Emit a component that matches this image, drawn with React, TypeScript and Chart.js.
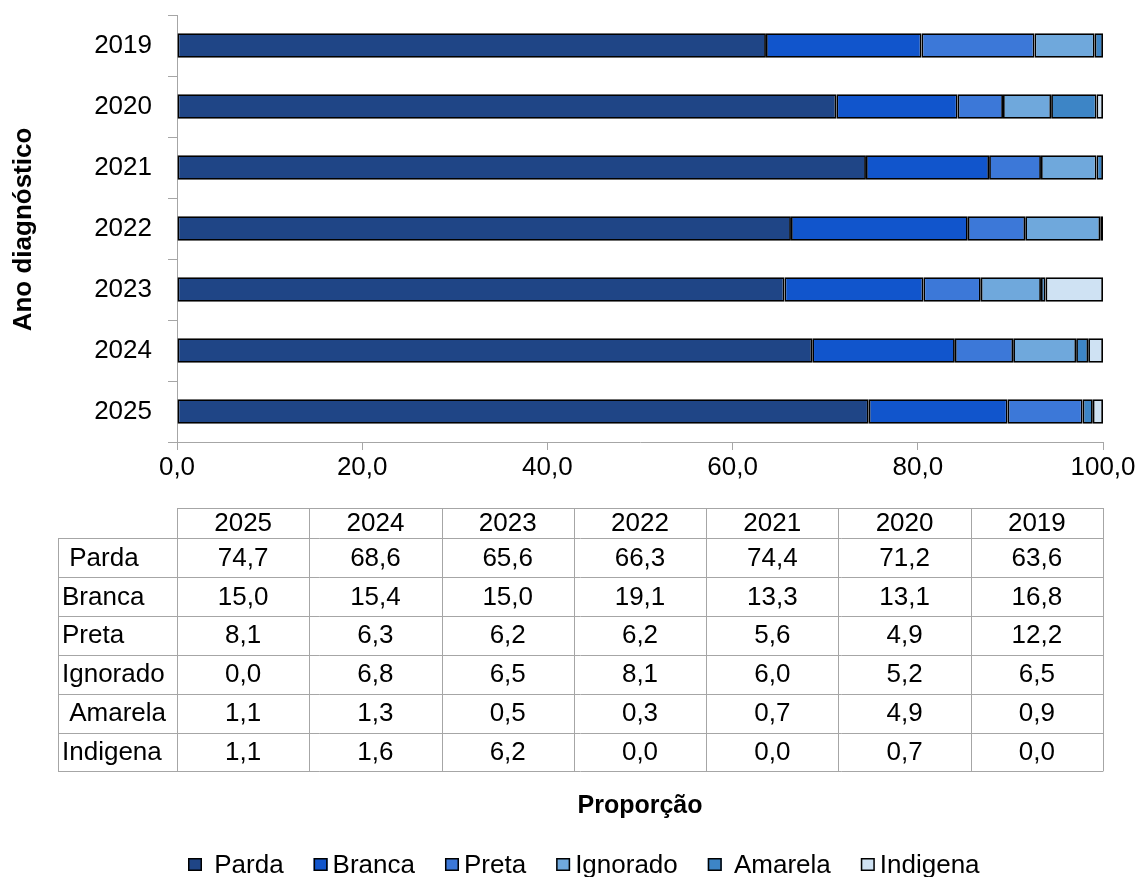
import React, { useEffect, useRef } from "react";
import { Chart, registerables } from "chart.js";

Chart.register(...registerables);

const categories = ["2019", "2020", "2021", "2022", "2023", "2024", "2025"];
const seriesNames = [" Parda", "Branca", "Preta", "Ignorado", " Amarela", "Indigena"];
const parda = [63.6, 71.2, 74.4, 66.3, 65.6, 68.6, 74.7];
const branca = [16.8, 13.1, 13.3, 19.1, 15.0, 15.4, 15.0];
const preta = [12.2, 4.9, 5.6, 6.2, 6.2, 6.3, 8.1];
const ignorado = [6.5, 5.2, 6.0, 8.1, 6.5, 6.8, 0.0];
const amarela = [0.9, 4.9, 0.7, 0.3, 0.5, 1.3, 1.1];
const indigena = [0.0, 0.7, 0.0, 0.0, 6.2, 1.6, 1.1];
const xTicks = [0, 20, 40, 60, 80, 100];
const colors = ["#1F4586", "#1155CC", "#3C78D8", "#6FA8DC", "#3D85C6", "#CFE2F3"];

const seriesValues = [parda, branca, preta, ignorado, amarela, indigena];
const FONT = '"Liberation Sans", Arial, sans-serif';
const GRID = "#a6a6a6";
const fmt = (v: number) => v.toFixed(1).replace(".", ",");

const extrasPlugin = {
  id: "extras",
  afterDraw(chart: any) {
    const ctx = chart.ctx as CanvasRenderingContext2D;
    const { left, right, top, bottom } = chart.chartArea;
    ctx.save();
    ctx.fillStyle = "#000";

    // Y axis title
    ctx.save();
    ctx.translate(24, (top + bottom) / 2 + 1);
    ctx.rotate(-Math.PI / 2);
    ctx.font = `bold 26px ${FONT}`;
    ctx.textAlign = "center";
    ctx.textBaseline = "middle";
    ctx.fillText("Ano diagnóstico", 0, 0);
    ctx.restore();

    // Data table
    const cols = categories.slice().reverse();
    const colW = (right - left) / cols.length;
    const headTop = bottom + 66;
    const headH = 30;
    const rowH = 38.9;
    const labelLeft = 58;
    const rowsTop = headTop + headH;
    const tableBottom = rowsTop + rowH * seriesNames.length;

    ctx.strokeStyle = GRID;
    ctx.lineWidth = 1;
    ctx.beginPath();
    ctx.moveTo(left, headTop + 0.5);
    ctx.lineTo(right, headTop + 0.5);
    for (let r = 0; r <= seriesNames.length; r++) {
      const y = Math.round(rowsTop + r * rowH) + 0.5;
      ctx.moveTo(labelLeft, y);
      ctx.lineTo(right, y);
    }
    ctx.moveTo(labelLeft + 0.5, rowsTop);
    ctx.lineTo(labelLeft + 0.5, tableBottom);
    for (let c = 0; c <= cols.length; c++) {
      const x = Math.round(left + c * colW) + 0.5;
      ctx.moveTo(x, headTop);
      ctx.lineTo(x, tableBottom);
    }
    ctx.stroke();

    ctx.font = `26px ${FONT}`;
    ctx.textBaseline = "middle";
    ctx.textAlign = "center";
    cols.forEach((c, i) => {
      ctx.fillText(c, left + (i + 0.5) * colW, headTop + headH / 2 + 1);
    });
    seriesNames.forEach((name, r) => {
      const cy = rowsTop + (r + 0.5) * rowH + 1;
      ctx.textAlign = "left";
      ctx.fillText(name, labelLeft + 4, cy);
      ctx.textAlign = "center";
      cols.forEach((c, i) => {
        const idx = categories.indexOf(c);
        ctx.fillText(fmt(seriesValues[r][idx]), left + (i + 0.5) * colW, cy);
      });
    });

    // X axis title
    ctx.font = `bold 25px ${FONT}`;
    ctx.textAlign = "center";
    ctx.fillText("Proporção", (left + right) / 2, 806);

    // Legend
    ctx.font = `26px ${FONT}`;
    ctx.textAlign = "left";
    let x = 188;
    const ly = 865;
    seriesNames.forEach((name, i) => {
      ctx.fillStyle = colors[i];
      ctx.fillRect(x, ly - 7, 14, 13);
      ctx.strokeStyle = "#000";
      ctx.lineWidth = 1.5;
      ctx.strokeRect(x + 0.75, ly - 6.25, 12.5, 11.5);
      ctx.fillStyle = "#000";
      ctx.fillText(name, x + 19, ly + 1);
      x += 19 + ctx.measureText(name).width + 30;
    });

    ctx.restore();
  },
};

export default function App() {
  const ref = useRef<HTMLCanvasElement | null>(null);
  useEffect(() => {
    if (!ref.current) return;
    const chart = new Chart(ref.current, {
      type: "bar",
      data: {
        labels: categories,
        datasets: seriesNames.map((name, i) => ({
          label: name,
          data: seriesValues[i],
          backgroundColor: colors[i],
          borderColor: "#000",
          borderWidth: 1.8,
          borderSkipped: false,
          categoryPercentage: 1,
          barPercentage: 0.4,
        })),
      },
      options: {
        indexAxis: "y",
        animation: false,
        responsive: true,
        maintainAspectRatio: false,
        layout: { padding: { left: 0, top: 15, right: 34, bottom: 385 } },
        plugins: { legend: { display: false }, tooltip: { enabled: false } },
        scales: {
          x: {
            stacked: true,
            min: 0,
            max: 100,
            afterBuildTicks: (s: any) => {
              s.ticks = xTicks.map((v) => ({ value: v }));
            },
            ticks: {
              color: "#000",
              font: { family: FONT, size: 26 },
              padding: 2,
              maxRotation: 0,
              callback: (v: any) => fmt(Number(v)),
            },
            grid: { drawOnChartArea: false, drawTicks: true, tickLength: 8, color: GRID },
            border: { display: true, color: GRID },
            afterFit: (s: any) => {
              s.height = 50;
              s.paddingLeft = 0;
              s.paddingRight = 0;
            },
          },
          y: {
            stacked: true,
            ticks: { color: "#000", font: { family: FONT, size: 26 }, padding: 16 },
            grid: { drawOnChartArea: false, drawTicks: true, tickLength: 9, color: GRID, offset: true },
            border: { display: true, color: GRID },
            afterFit: (s: any) => {
              s.width = 177;
              s.paddingTop = 0;
              s.paddingBottom = 0;
            },
          },
        },
      },
      plugins: [extrasPlugin],
    });
    return () => chart.destroy();
  }, []);
  return (
    <div style={{ position: "absolute", left: 0, top: 0, width: 1137, height: 877, background: "#fff" }}>
      <canvas ref={ref} />
    </div>
  );
}
